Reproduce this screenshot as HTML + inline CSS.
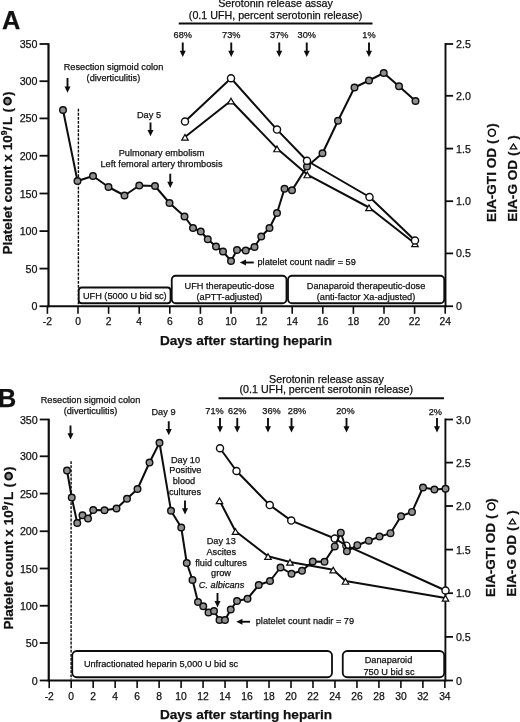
<!DOCTYPE html>
<html><head><meta charset="utf-8"><title>Figure</title>
<style>html,body{margin:0;padding:0;background:#fff;}svg{display:block;}svg{filter:grayscale(1);}text{font-family:"Liberation Sans",Arial,sans-serif;fill:#111;stroke:#111;stroke-width:0.25px;}</style>
</head><body>
<svg width="520" height="722" viewBox="0 0 520 722">
<rect width="520" height="722" fill="#fff"/>
<text x="2.0" y="28.5" font-size="25.4" text-anchor="start" font-weight="bold" font-style="normal" >A</text>
<text x="275.5" y="7.3" font-size="10.7" text-anchor="middle" font-weight="normal" font-style="normal" >Serotonin release assay</text>
<text x="275.6" y="18.6" font-size="10.7" text-anchor="middle" font-weight="normal" font-style="normal" >(0.1 UFH, percent serotonin release)</text>
<line x1="178.75" y1="23.5" x2="372.5" y2="23.5" stroke="#0d0d0d" stroke-width="2"/>
<text x="182.75" y="38" font-size="9.2" text-anchor="middle" font-weight="normal" font-style="normal" >68%</text>
<line x1="182.75" y1="42.5" x2="182.75" y2="51.65" stroke="#0d0d0d" stroke-width="1.9"/>
<polygon points="179.75,50.65 185.75,50.65 182.75,57.05" fill="#0d0d0d"/>
<text x="231.25" y="38" font-size="9.2" text-anchor="middle" font-weight="normal" font-style="normal" >73%</text>
<line x1="231.25" y1="42.5" x2="231.25" y2="51.65" stroke="#0d0d0d" stroke-width="1.9"/>
<polygon points="228.25,50.65 234.25,50.65 231.25,57.05" fill="#0d0d0d"/>
<text x="279.25" y="38" font-size="9.2" text-anchor="middle" font-weight="normal" font-style="normal" >37%</text>
<line x1="279.25" y1="42.5" x2="279.25" y2="51.65" stroke="#0d0d0d" stroke-width="1.9"/>
<polygon points="276.25,50.65 282.25,50.65 279.25,57.05" fill="#0d0d0d"/>
<text x="306.75" y="38" font-size="9.2" text-anchor="middle" font-weight="normal" font-style="normal" >30%</text>
<line x1="306.75" y1="42.5" x2="306.75" y2="51.65" stroke="#0d0d0d" stroke-width="1.9"/>
<polygon points="303.75,50.65 309.75,50.65 306.75,57.05" fill="#0d0d0d"/>
<text x="369" y="38" font-size="9.2" text-anchor="middle" font-weight="normal" font-style="normal" >1%</text>
<line x1="369" y1="42.5" x2="369" y2="51.65" stroke="#0d0d0d" stroke-width="1.9"/>
<polygon points="366.0,50.65 372.0,50.65 369,57.05" fill="#0d0d0d"/>
<text x="113.5" y="70" font-size="9.2" text-anchor="middle" font-weight="normal" font-style="normal" >Resection sigmoid colon</text>
<text x="113.4" y="80.5" font-size="9.2" text-anchor="middle" font-weight="normal" font-style="normal" >(diverticulitis)</text>
<line x1="67.5" y1="78" x2="67.5" y2="87.39999999999999" stroke="#0d0d0d" stroke-width="1.9"/>
<polygon points="64.5,86.39999999999999 70.5,86.39999999999999 67.5,92.8" fill="#0d0d0d"/>
<text x="149" y="118" font-size="9.2" text-anchor="middle" font-weight="normal" font-style="normal" >Day 5</text>
<line x1="150.5" y1="122.5" x2="150.5" y2="130.9" stroke="#0d0d0d" stroke-width="1.9"/>
<polygon points="147.5,129.9 153.5,129.9 150.5,136.3" fill="#0d0d0d"/>
<text x="161.6" y="155.5" font-size="9.2" text-anchor="middle" font-weight="normal" font-style="normal" >Pulmonary embolism</text>
<text x="161.5" y="166.5" font-size="9.2" text-anchor="middle" font-weight="normal" font-style="normal" >Left femoral artery thrombosis</text>
<line x1="170.25" y1="173.75" x2="170.25" y2="182.65" stroke="#0d0d0d" stroke-width="1.9"/>
<polygon points="167.25,181.65 173.25,181.65 170.25,188.05" fill="#0d0d0d"/>
<line x1="78.4" y1="108.75" x2="78.4" y2="305" stroke="#0d0d0d" stroke-width="1.4" stroke-dasharray="2.8,1.3"/>
<rect x="78.75" y="287.5" width="91.75" height="15.75" rx="3" ry="3" fill="#fff" stroke="#0d0d0d" stroke-width="1.8"/>
<text x="124.8" y="298.8" font-size="9.2" text-anchor="middle" font-weight="normal" font-style="normal" >UFH (5000 U bid sc)</text>
<rect x="171.75" y="275.75" width="114.75" height="27.5" rx="4" ry="4" fill="#fff" stroke="#0d0d0d" stroke-width="1.8"/>
<text x="229.5" y="288.5" font-size="9.2" text-anchor="middle" font-weight="normal" font-style="normal" >UFH therapeutic-dose</text>
<text x="229.5" y="299.5" font-size="9.2" text-anchor="middle" font-weight="normal" font-style="normal" >(aPTT-adjusted)</text>
<rect x="288" y="275.75" width="156.25" height="27.5" rx="4" ry="4" fill="#fff" stroke="#0d0d0d" stroke-width="1.8"/>
<text x="366" y="288.5" font-size="9.2" text-anchor="middle" font-weight="normal" font-style="normal" >Danaparoid therapeutic-dose</text>
<text x="366" y="299.5" font-size="9.2" text-anchor="middle" font-weight="normal" font-style="normal" >(anti-factor Xa-adjusted)</text>
<line x1="48.5" y1="43.25" x2="48.5" y2="307.25" stroke="#0d0d0d" stroke-width="2.2"/>
<line x1="47.5" y1="306.25" x2="446.25" y2="306.25" stroke="#0d0d0d" stroke-width="2"/>
<line x1="445.5" y1="43.1" x2="445.5" y2="307.25" stroke="#0d0d0d" stroke-width="1.9"/>
<line x1="39.5" y1="306.25" x2="48.5" y2="306.25" stroke="#0d0d0d" stroke-width="1.8"/>
<text x="37.5" y="310.25" font-size="10.7" text-anchor="end" font-weight="normal" font-style="normal" >0</text>
<line x1="39.5" y1="268.6" x2="48.5" y2="268.6" stroke="#0d0d0d" stroke-width="1.8"/>
<text x="37.5" y="272.6" font-size="10.7" text-anchor="end" font-weight="normal" font-style="normal" >50</text>
<line x1="39.5" y1="231.1" x2="48.5" y2="231.1" stroke="#0d0d0d" stroke-width="1.8"/>
<text x="37.5" y="235.1" font-size="10.7" text-anchor="end" font-weight="normal" font-style="normal" >100</text>
<line x1="39.5" y1="193.5" x2="48.5" y2="193.5" stroke="#0d0d0d" stroke-width="1.8"/>
<text x="37.5" y="197.5" font-size="10.7" text-anchor="end" font-weight="normal" font-style="normal" >150</text>
<line x1="39.5" y1="155.75" x2="48.5" y2="155.75" stroke="#0d0d0d" stroke-width="1.8"/>
<text x="37.5" y="159.75" font-size="10.7" text-anchor="end" font-weight="normal" font-style="normal" >200</text>
<line x1="39.5" y1="118.4" x2="48.5" y2="118.4" stroke="#0d0d0d" stroke-width="1.8"/>
<text x="37.5" y="122.4" font-size="10.7" text-anchor="end" font-weight="normal" font-style="normal" >250</text>
<line x1="39.5" y1="81.2" x2="48.5" y2="81.2" stroke="#0d0d0d" stroke-width="1.8"/>
<text x="37.5" y="85.2" font-size="10.7" text-anchor="end" font-weight="normal" font-style="normal" >300</text>
<line x1="39.5" y1="44" x2="48.5" y2="44" stroke="#0d0d0d" stroke-width="1.8"/>
<text x="37.5" y="48" font-size="10.7" text-anchor="end" font-weight="normal" font-style="normal" >350</text>
<line x1="445.5" y1="306.25" x2="453.1" y2="306.25" stroke="#0d0d0d" stroke-width="1.8"/>
<text x="456.0" y="310.25" font-size="10.7" text-anchor="start" font-weight="normal" font-style="normal" >0</text>
<line x1="445.5" y1="253.4" x2="453.1" y2="253.4" stroke="#0d0d0d" stroke-width="1.8"/>
<text x="456.0" y="257.4" font-size="10.7" text-anchor="start" font-weight="normal" font-style="normal" >0.5</text>
<line x1="445.5" y1="201.2" x2="453.1" y2="201.2" stroke="#0d0d0d" stroke-width="1.8"/>
<text x="456.0" y="205.2" font-size="10.7" text-anchor="start" font-weight="normal" font-style="normal" >1.0</text>
<line x1="445.5" y1="148.6" x2="453.1" y2="148.6" stroke="#0d0d0d" stroke-width="1.8"/>
<text x="456.0" y="152.6" font-size="10.7" text-anchor="start" font-weight="normal" font-style="normal" >1.5</text>
<line x1="445.5" y1="95.8" x2="453.1" y2="95.8" stroke="#0d0d0d" stroke-width="1.8"/>
<text x="456.0" y="99.8" font-size="10.7" text-anchor="start" font-weight="normal" font-style="normal" >2.0</text>
<line x1="445.5" y1="44" x2="453.1" y2="44" stroke="#0d0d0d" stroke-width="1.8"/>
<text x="456.0" y="48" font-size="10.7" text-anchor="start" font-weight="normal" font-style="normal" >2.5</text>
<line x1="47.4" y1="306.25" x2="47.4" y2="313.85" stroke="#0d0d0d" stroke-width="1.6"/>
<text x="47.4" y="325.25" font-size="10.3" text-anchor="middle" font-weight="normal" font-style="normal" >-2</text>
<line x1="78.0" y1="306.25" x2="78.0" y2="313.85" stroke="#0d0d0d" stroke-width="1.6"/>
<text x="78.0" y="325.25" font-size="10.3" text-anchor="middle" font-weight="normal" font-style="normal" >0</text>
<line x1="108.6" y1="306.25" x2="108.6" y2="313.85" stroke="#0d0d0d" stroke-width="1.6"/>
<text x="108.6" y="325.25" font-size="10.3" text-anchor="middle" font-weight="normal" font-style="normal" >2</text>
<line x1="139.2" y1="306.25" x2="139.2" y2="313.85" stroke="#0d0d0d" stroke-width="1.6"/>
<text x="139.2" y="325.25" font-size="10.3" text-anchor="middle" font-weight="normal" font-style="normal" >4</text>
<line x1="169.8" y1="306.25" x2="169.8" y2="313.85" stroke="#0d0d0d" stroke-width="1.6"/>
<text x="169.8" y="325.25" font-size="10.3" text-anchor="middle" font-weight="normal" font-style="normal" >6</text>
<line x1="200.4" y1="306.25" x2="200.4" y2="313.85" stroke="#0d0d0d" stroke-width="1.6"/>
<text x="200.4" y="325.25" font-size="10.3" text-anchor="middle" font-weight="normal" font-style="normal" >8</text>
<line x1="231.0" y1="306.25" x2="231.0" y2="313.85" stroke="#0d0d0d" stroke-width="1.6"/>
<text x="231.0" y="325.25" font-size="10.3" text-anchor="middle" font-weight="normal" font-style="normal" >10</text>
<line x1="261.6" y1="306.25" x2="261.6" y2="313.85" stroke="#0d0d0d" stroke-width="1.6"/>
<text x="261.6" y="325.25" font-size="10.3" text-anchor="middle" font-weight="normal" font-style="normal" >12</text>
<line x1="292.2" y1="306.25" x2="292.2" y2="313.85" stroke="#0d0d0d" stroke-width="1.6"/>
<text x="292.2" y="325.25" font-size="10.3" text-anchor="middle" font-weight="normal" font-style="normal" >14</text>
<line x1="322.8" y1="306.25" x2="322.8" y2="313.85" stroke="#0d0d0d" stroke-width="1.6"/>
<text x="322.8" y="325.25" font-size="10.3" text-anchor="middle" font-weight="normal" font-style="normal" >16</text>
<line x1="353.4" y1="306.25" x2="353.4" y2="313.85" stroke="#0d0d0d" stroke-width="1.6"/>
<text x="353.4" y="325.25" font-size="10.3" text-anchor="middle" font-weight="normal" font-style="normal" >18</text>
<line x1="384.0" y1="306.25" x2="384.0" y2="313.85" stroke="#0d0d0d" stroke-width="1.6"/>
<text x="384.0" y="325.25" font-size="10.3" text-anchor="middle" font-weight="normal" font-style="normal" >20</text>
<line x1="414.6" y1="306.25" x2="414.6" y2="313.85" stroke="#0d0d0d" stroke-width="1.6"/>
<text x="414.6" y="325.25" font-size="10.3" text-anchor="middle" font-weight="normal" font-style="normal" >22</text>
<line x1="445.2" y1="306.25" x2="445.2" y2="313.85" stroke="#0d0d0d" stroke-width="1.6"/>
<text x="445.2" y="325.25" font-size="10.3" text-anchor="middle" font-weight="normal" font-style="normal" >24</text>
<polyline points="63,110 77.5,181 93,176 108.5,187 124.5,195.5 139.25,185.5 155,186 169.5,203 184.5,216.5 193,228 200.75,231.5 207.75,239.25 216,246.5 223,251.5 231,261 237,250 245.75,250.5 254.5,247 261.25,236.5 269.5,228 277,213 284.5,188.75 292,190.25 307,166.6 322.5,153.25 338,120.75 354.5,87.5 369,80.5 383.75,73 399,86.25 415.5,101" fill="none" stroke="#0d0d0d" stroke-width="2.0" stroke-linejoin="round"/>
<circle cx="63" cy="110" r="3.3" fill="#8f8f8f" stroke="#0d0d0d" stroke-width="1.4"/>
<circle cx="77.5" cy="181" r="3.3" fill="#8f8f8f" stroke="#0d0d0d" stroke-width="1.4"/>
<circle cx="93" cy="176" r="3.3" fill="#8f8f8f" stroke="#0d0d0d" stroke-width="1.4"/>
<circle cx="108.5" cy="187" r="3.3" fill="#8f8f8f" stroke="#0d0d0d" stroke-width="1.4"/>
<circle cx="124.5" cy="195.5" r="3.3" fill="#8f8f8f" stroke="#0d0d0d" stroke-width="1.4"/>
<circle cx="139.25" cy="185.5" r="3.3" fill="#8f8f8f" stroke="#0d0d0d" stroke-width="1.4"/>
<circle cx="155" cy="186" r="3.3" fill="#8f8f8f" stroke="#0d0d0d" stroke-width="1.4"/>
<circle cx="169.5" cy="203" r="3.3" fill="#8f8f8f" stroke="#0d0d0d" stroke-width="1.4"/>
<circle cx="184.5" cy="216.5" r="3.3" fill="#8f8f8f" stroke="#0d0d0d" stroke-width="1.4"/>
<circle cx="193" cy="228" r="3.3" fill="#8f8f8f" stroke="#0d0d0d" stroke-width="1.4"/>
<circle cx="200.75" cy="231.5" r="3.3" fill="#8f8f8f" stroke="#0d0d0d" stroke-width="1.4"/>
<circle cx="207.75" cy="239.25" r="3.3" fill="#8f8f8f" stroke="#0d0d0d" stroke-width="1.4"/>
<circle cx="216" cy="246.5" r="3.3" fill="#8f8f8f" stroke="#0d0d0d" stroke-width="1.4"/>
<circle cx="223" cy="251.5" r="3.3" fill="#8f8f8f" stroke="#0d0d0d" stroke-width="1.4"/>
<circle cx="231" cy="261" r="3.3" fill="#8f8f8f" stroke="#0d0d0d" stroke-width="1.4"/>
<circle cx="237" cy="250" r="3.3" fill="#8f8f8f" stroke="#0d0d0d" stroke-width="1.4"/>
<circle cx="245.75" cy="250.5" r="3.3" fill="#8f8f8f" stroke="#0d0d0d" stroke-width="1.4"/>
<circle cx="254.5" cy="247" r="3.3" fill="#8f8f8f" stroke="#0d0d0d" stroke-width="1.4"/>
<circle cx="261.25" cy="236.5" r="3.3" fill="#8f8f8f" stroke="#0d0d0d" stroke-width="1.4"/>
<circle cx="269.5" cy="228" r="3.3" fill="#8f8f8f" stroke="#0d0d0d" stroke-width="1.4"/>
<circle cx="277" cy="213" r="3.3" fill="#8f8f8f" stroke="#0d0d0d" stroke-width="1.4"/>
<circle cx="284.5" cy="188.75" r="3.3" fill="#8f8f8f" stroke="#0d0d0d" stroke-width="1.4"/>
<circle cx="292" cy="190.25" r="3.3" fill="#8f8f8f" stroke="#0d0d0d" stroke-width="1.4"/>
<circle cx="307" cy="166.6" r="3.3" fill="#8f8f8f" stroke="#0d0d0d" stroke-width="1.4"/>
<circle cx="322.5" cy="153.25" r="3.3" fill="#8f8f8f" stroke="#0d0d0d" stroke-width="1.4"/>
<circle cx="338" cy="120.75" r="3.3" fill="#8f8f8f" stroke="#0d0d0d" stroke-width="1.4"/>
<circle cx="354.5" cy="87.5" r="3.3" fill="#8f8f8f" stroke="#0d0d0d" stroke-width="1.4"/>
<circle cx="369" cy="80.5" r="3.3" fill="#8f8f8f" stroke="#0d0d0d" stroke-width="1.4"/>
<circle cx="383.75" cy="73" r="3.3" fill="#8f8f8f" stroke="#0d0d0d" stroke-width="1.4"/>
<circle cx="399" cy="86.25" r="3.3" fill="#8f8f8f" stroke="#0d0d0d" stroke-width="1.4"/>
<circle cx="415.5" cy="101" r="3.3" fill="#8f8f8f" stroke="#0d0d0d" stroke-width="1.4"/>
<polyline points="185,137 231,100.75 277,148.6 307.25,174.6 369,207.5 415,243.5" fill="none" stroke="#0d0d0d" stroke-width="2.0" stroke-linejoin="round"/>
<polyline points="185,121.5 231,78.25 277,129.6 307,160.75 369.5,197 415,240.5" fill="none" stroke="#0d0d0d" stroke-width="2.0" stroke-linejoin="round"/>
<polygon points="181.75,140.15 188.25,140.15 185,134.48" fill="#fff" stroke="#0d0d0d" stroke-width="1.2" stroke-linejoin="miter"/>
<polygon points="227.75,103.9 234.25,103.9 231,98.23" fill="#fff" stroke="#0d0d0d" stroke-width="1.2" stroke-linejoin="miter"/>
<polygon points="273.75,151.75 280.25,151.75 277,146.07999999999998" fill="#fff" stroke="#0d0d0d" stroke-width="1.2" stroke-linejoin="miter"/>
<polygon points="304.0,177.75 310.5,177.75 307.25,172.07999999999998" fill="#fff" stroke="#0d0d0d" stroke-width="1.2" stroke-linejoin="miter"/>
<polygon points="365.75,210.65 372.25,210.65 369,204.98" fill="#fff" stroke="#0d0d0d" stroke-width="1.2" stroke-linejoin="miter"/>
<polygon points="411.75,246.65 418.25,246.65 415,240.98" fill="#fff" stroke="#0d0d0d" stroke-width="1.2" stroke-linejoin="miter"/>
<circle cx="185" cy="121.5" r="3.55" fill="#fff" stroke="#0d0d0d" stroke-width="1.4"/>
<circle cx="231" cy="78.25" r="3.55" fill="#fff" stroke="#0d0d0d" stroke-width="1.4"/>
<circle cx="277" cy="129.6" r="3.55" fill="#fff" stroke="#0d0d0d" stroke-width="1.4"/>
<circle cx="307" cy="160.75" r="3.55" fill="#fff" stroke="#0d0d0d" stroke-width="1.4"/>
<circle cx="369.5" cy="197" r="3.55" fill="#fff" stroke="#0d0d0d" stroke-width="1.4"/>
<circle cx="415" cy="240.5" r="3.55" fill="#fff" stroke="#0d0d0d" stroke-width="1.4"/>
<line x1="245.0" y1="262.5" x2="253.75" y2="262.5" stroke="#0d0d0d" stroke-width="1.9"/>
<polygon points="246.0,259.5 246.0,265.5 239.8,262.5" fill="#0d0d0d"/>
<text x="257.5" y="264.8" font-size="9.2" text-anchor="start" font-weight="normal" font-style="normal" >platelet count nadir = 59</text>
<text x="246" y="344.9" font-size="13.6" text-anchor="middle" font-weight="bold" font-style="normal" >Days after starting heparin</text>
<g transform="translate(11.9,254.6) rotate(-90)"><text x="0" y="0" font-size="13.6" font-weight="bold">Platelet count x 10<tspan font-size="8.6" dy="-4.6">9</tspan><tspan dy="4.6">/</tspan><tspan dx="1.6">L</tspan><tspan dx="0.8"> (</tspan><tspan dx="11.9">)</tspan></text></g>
<circle cx="7.5" cy="101.2" r="3.4" fill="#8f8f8f" stroke="#0d0d0d" stroke-width="1.9"/>
<g transform="translate(495.9,221.9) rotate(-90)"><text x="0" y="0" font-size="13.6" font-weight="bold">EIA-GTI OD (<tspan dx="11.75">)</tspan></text></g>
<circle cx="491.9" cy="132.85" r="3.5" fill="#fff" stroke="#0d0d0d" stroke-width="1.5"/>
<g transform="translate(516.6,221.8) rotate(-90)"><text x="0" y="0" font-size="13.6" font-weight="bold">EIA-G OD (<tspan dx="11.85">)</tspan></text></g>
<polygon points="510.2,148.8 516.7,148.8 513.45,143.9" fill="#fff" stroke="#0d0d0d" stroke-width="1.2"/>
<text x="-2.2" y="407.4" font-size="25.6" text-anchor="start" font-weight="bold" font-style="normal" >B</text>
<text x="326.4" y="382.9" font-size="10.7" text-anchor="middle" font-weight="normal" font-style="normal" >Serotonin release assay</text>
<text x="326.3" y="393.0" font-size="10.7" text-anchor="middle" font-weight="normal" font-style="normal" >(0.1 UFH, percent serotonin release)</text>
<line x1="218.5" y1="398.3" x2="444" y2="398.3" stroke="#0d0d0d" stroke-width="2"/>
<text x="214.5" y="413.8" font-size="9.2" text-anchor="middle" font-weight="normal" font-style="normal" >71%</text>
<line x1="220" y1="418" x2="220" y2="427.15000000000003" stroke="#0d0d0d" stroke-width="1.9"/>
<polygon points="217.0,426.15000000000003 223.0,426.15000000000003 220,432.55" fill="#0d0d0d"/>
<text x="237.25" y="413.8" font-size="9.2" text-anchor="middle" font-weight="normal" font-style="normal" >62%</text>
<line x1="237.25" y1="418" x2="237.25" y2="427.15000000000003" stroke="#0d0d0d" stroke-width="1.9"/>
<polygon points="234.25,426.15000000000003 240.25,426.15000000000003 237.25,432.55" fill="#0d0d0d"/>
<text x="271.5" y="413.8" font-size="9.2" text-anchor="middle" font-weight="normal" font-style="normal" >36%</text>
<line x1="268" y1="418" x2="268" y2="427.15000000000003" stroke="#0d0d0d" stroke-width="1.9"/>
<polygon points="265.0,426.15000000000003 271.0,426.15000000000003 268,432.55" fill="#0d0d0d"/>
<text x="297" y="413.8" font-size="9.2" text-anchor="middle" font-weight="normal" font-style="normal" >28%</text>
<line x1="291.5" y1="418" x2="291.5" y2="427.15000000000003" stroke="#0d0d0d" stroke-width="1.9"/>
<polygon points="288.5,426.15000000000003 294.5,426.15000000000003 291.5,432.55" fill="#0d0d0d"/>
<text x="345.4" y="413.8" font-size="9.2" text-anchor="middle" font-weight="normal" font-style="normal" >20%</text>
<line x1="346.5" y1="418" x2="346.5" y2="427.15000000000003" stroke="#0d0d0d" stroke-width="1.9"/>
<polygon points="343.5,426.15000000000003 349.5,426.15000000000003 346.5,432.55" fill="#0d0d0d"/>
<text x="435.4" y="415" font-size="9.2" text-anchor="middle" font-weight="normal" font-style="normal" >2%</text>
<line x1="437" y1="418" x2="437" y2="427.15000000000003" stroke="#0d0d0d" stroke-width="1.9"/>
<polygon points="434.0,426.15000000000003 440.0,426.15000000000003 437,432.55" fill="#0d0d0d"/>
<text x="90.5" y="402.5" font-size="9.2" text-anchor="middle" font-weight="normal" font-style="normal" >Resection sigmoid colon</text>
<text x="90.5" y="413.5" font-size="9.2" text-anchor="middle" font-weight="normal" font-style="normal" >(diverticulitis)</text>
<line x1="70.5" y1="425.5" x2="70.5" y2="434.15000000000003" stroke="#0d0d0d" stroke-width="1.9"/>
<polygon points="67.5,433.15000000000003 73.5,433.15000000000003 70.5,439.55" fill="#0d0d0d"/>
<text x="163.5" y="414.5" font-size="9.2" text-anchor="middle" font-weight="normal" font-style="normal" >Day 9</text>
<line x1="168.75" y1="421.25" x2="168.75" y2="429.90000000000003" stroke="#0d0d0d" stroke-width="1.9"/>
<polygon points="165.75,428.90000000000003 171.75,428.90000000000003 168.75,435.3" fill="#0d0d0d"/>
<text x="185.5" y="462.5" font-size="9.2" text-anchor="middle" font-weight="normal" font-style="normal" >Day 10</text>
<text x="185.4" y="473.3" font-size="9.2" text-anchor="middle" font-weight="normal" font-style="normal" >Positive</text>
<text x="184" y="484.3" font-size="9.2" text-anchor="middle" font-weight="normal" font-style="normal" >blood</text>
<text x="185" y="495.2" font-size="9.2" text-anchor="middle" font-weight="normal" font-style="normal" >cultures</text>
<line x1="185" y1="500.5" x2="185" y2="509.15" stroke="#0d0d0d" stroke-width="1.9"/>
<polygon points="182.0,508.15 188.0,508.15 185,514.55" fill="#0d0d0d"/>
<text x="221.25" y="543.5" font-size="9.2" text-anchor="middle" font-weight="normal" font-style="normal" >Day 13</text>
<text x="221.25" y="554.8" font-size="9.2" text-anchor="middle" font-weight="normal" font-style="normal" >Ascites</text>
<text x="221" y="565.6" font-size="9.2" text-anchor="middle" font-weight="normal" font-style="normal" >fluid cultures</text>
<text x="221" y="576.4" font-size="9.2" text-anchor="middle" font-weight="normal" font-style="normal" >grow</text>
<text x="221.6" y="587.5" font-size="9.2" text-anchor="middle" font-weight="normal" font-style="italic" >C. albicans</text>
<line x1="217.5" y1="593" x2="217.5" y2="602.0" stroke="#0d0d0d" stroke-width="1.9"/>
<polygon points="214.5,601.0 220.5,601.0 217.5,607.4" fill="#0d0d0d"/>
<line x1="71.1" y1="461.2" x2="71.1" y2="679.5" stroke="#0d0d0d" stroke-width="1.4" stroke-dasharray="2.8,1.3"/>
<rect x="72.25" y="651" width="259.75" height="26.25" rx="4.5" ry="4.5" fill="#fff" stroke="#0d0d0d" stroke-width="1.8"/>
<text x="161" y="667" font-size="9.2" text-anchor="middle" font-weight="normal" font-style="normal" >Unfractionated heparin 5,000 U bid sc</text>
<rect x="342.75" y="651" width="101.44999999999999" height="26.25" rx="4.5" ry="4.5" fill="#fff" stroke="#0d0d0d" stroke-width="1.8"/>
<text x="388.5" y="663" font-size="9.2" text-anchor="middle" font-weight="normal" font-style="normal" >Danaparoid</text>
<text x="389" y="674.5" font-size="9.2" text-anchor="middle" font-weight="normal" font-style="normal" >750 U bid sc</text>
<line x1="48.75" y1="418.75" x2="48.75" y2="681.5" stroke="#0d0d0d" stroke-width="2.2"/>
<line x1="47.75" y1="680.5" x2="446.15" y2="680.5" stroke="#0d0d0d" stroke-width="2"/>
<line x1="445.4" y1="418.6" x2="445.4" y2="681.5" stroke="#0d0d0d" stroke-width="1.9"/>
<line x1="39.75" y1="680.5" x2="48.75" y2="680.5" stroke="#0d0d0d" stroke-width="1.8"/>
<text x="37.75" y="684.5" font-size="10.7" text-anchor="end" font-weight="normal" font-style="normal" >0</text>
<line x1="39.75" y1="643" x2="48.75" y2="643" stroke="#0d0d0d" stroke-width="1.8"/>
<text x="37.75" y="647" font-size="10.7" text-anchor="end" font-weight="normal" font-style="normal" >50</text>
<line x1="39.75" y1="605.75" x2="48.75" y2="605.75" stroke="#0d0d0d" stroke-width="1.8"/>
<text x="37.75" y="609.75" font-size="10.7" text-anchor="end" font-weight="normal" font-style="normal" >100</text>
<line x1="39.75" y1="568.5" x2="48.75" y2="568.5" stroke="#0d0d0d" stroke-width="1.8"/>
<text x="37.75" y="572.5" font-size="10.7" text-anchor="end" font-weight="normal" font-style="normal" >150</text>
<line x1="39.75" y1="531.25" x2="48.75" y2="531.25" stroke="#0d0d0d" stroke-width="1.8"/>
<text x="37.75" y="535.25" font-size="10.7" text-anchor="end" font-weight="normal" font-style="normal" >200</text>
<line x1="39.75" y1="493.6" x2="48.75" y2="493.6" stroke="#0d0d0d" stroke-width="1.8"/>
<text x="37.75" y="497.6" font-size="10.7" text-anchor="end" font-weight="normal" font-style="normal" >250</text>
<line x1="39.75" y1="456.3" x2="48.75" y2="456.3" stroke="#0d0d0d" stroke-width="1.8"/>
<text x="37.75" y="460.3" font-size="10.7" text-anchor="end" font-weight="normal" font-style="normal" >300</text>
<line x1="39.75" y1="419.5" x2="48.75" y2="419.5" stroke="#0d0d0d" stroke-width="1.8"/>
<text x="37.75" y="423.5" font-size="10.7" text-anchor="end" font-weight="normal" font-style="normal" >350</text>
<line x1="445.4" y1="680.5" x2="453.0" y2="680.5" stroke="#0d0d0d" stroke-width="1.8"/>
<text x="455.9" y="684.5" font-size="10.7" text-anchor="start" font-weight="normal" font-style="normal" >0</text>
<line x1="445.4" y1="636.9" x2="453.0" y2="636.9" stroke="#0d0d0d" stroke-width="1.8"/>
<text x="455.9" y="640.9" font-size="10.7" text-anchor="start" font-weight="normal" font-style="normal" >0.5</text>
<line x1="445.4" y1="593.2" x2="453.0" y2="593.2" stroke="#0d0d0d" stroke-width="1.8"/>
<text x="455.9" y="597.2" font-size="10.7" text-anchor="start" font-weight="normal" font-style="normal" >1.0</text>
<line x1="445.4" y1="549.6" x2="453.0" y2="549.6" stroke="#0d0d0d" stroke-width="1.8"/>
<text x="455.9" y="553.6" font-size="10.7" text-anchor="start" font-weight="normal" font-style="normal" >1.5</text>
<line x1="445.4" y1="506" x2="453.0" y2="506" stroke="#0d0d0d" stroke-width="1.8"/>
<text x="455.9" y="510" font-size="10.7" text-anchor="start" font-weight="normal" font-style="normal" >2.0</text>
<line x1="445.4" y1="462.6" x2="453.0" y2="462.6" stroke="#0d0d0d" stroke-width="1.8"/>
<text x="455.9" y="466.6" font-size="10.7" text-anchor="start" font-weight="normal" font-style="normal" >2.5</text>
<line x1="445.4" y1="419.5" x2="453.0" y2="419.5" stroke="#0d0d0d" stroke-width="1.8"/>
<text x="455.9" y="423.5" font-size="10.7" text-anchor="start" font-weight="normal" font-style="normal" >3.0</text>
<line x1="49.22" y1="680.5" x2="49.22" y2="688.1" stroke="#0d0d0d" stroke-width="1.6"/>
<text x="49.22" y="699.5" font-size="10.3" text-anchor="middle" font-weight="normal" font-style="normal" >-2</text>
<line x1="71.2" y1="680.5" x2="71.2" y2="688.1" stroke="#0d0d0d" stroke-width="1.6"/>
<text x="71.2" y="699.5" font-size="10.3" text-anchor="middle" font-weight="normal" font-style="normal" >0</text>
<line x1="93.18" y1="680.5" x2="93.18" y2="688.1" stroke="#0d0d0d" stroke-width="1.6"/>
<text x="93.18" y="699.5" font-size="10.3" text-anchor="middle" font-weight="normal" font-style="normal" >2</text>
<line x1="115.16" y1="680.5" x2="115.16" y2="688.1" stroke="#0d0d0d" stroke-width="1.6"/>
<text x="115.16" y="699.5" font-size="10.3" text-anchor="middle" font-weight="normal" font-style="normal" >4</text>
<line x1="137.14" y1="680.5" x2="137.14" y2="688.1" stroke="#0d0d0d" stroke-width="1.6"/>
<text x="137.14" y="699.5" font-size="10.3" text-anchor="middle" font-weight="normal" font-style="normal" >6</text>
<line x1="159.12" y1="680.5" x2="159.12" y2="688.1" stroke="#0d0d0d" stroke-width="1.6"/>
<text x="159.12" y="699.5" font-size="10.3" text-anchor="middle" font-weight="normal" font-style="normal" >8</text>
<line x1="181.1" y1="680.5" x2="181.1" y2="688.1" stroke="#0d0d0d" stroke-width="1.6"/>
<text x="181.1" y="699.5" font-size="10.3" text-anchor="middle" font-weight="normal" font-style="normal" >10</text>
<line x1="203.08" y1="680.5" x2="203.08" y2="688.1" stroke="#0d0d0d" stroke-width="1.6"/>
<text x="203.08" y="699.5" font-size="10.3" text-anchor="middle" font-weight="normal" font-style="normal" >12</text>
<line x1="225.06" y1="680.5" x2="225.06" y2="688.1" stroke="#0d0d0d" stroke-width="1.6"/>
<text x="225.06" y="699.5" font-size="10.3" text-anchor="middle" font-weight="normal" font-style="normal" >14</text>
<line x1="247.04" y1="680.5" x2="247.04" y2="688.1" stroke="#0d0d0d" stroke-width="1.6"/>
<text x="247.04" y="699.5" font-size="10.3" text-anchor="middle" font-weight="normal" font-style="normal" >16</text>
<line x1="269.02" y1="680.5" x2="269.02" y2="688.1" stroke="#0d0d0d" stroke-width="1.6"/>
<text x="269.02" y="699.5" font-size="10.3" text-anchor="middle" font-weight="normal" font-style="normal" >18</text>
<line x1="291.0" y1="680.5" x2="291.0" y2="688.1" stroke="#0d0d0d" stroke-width="1.6"/>
<text x="291.0" y="699.5" font-size="10.3" text-anchor="middle" font-weight="normal" font-style="normal" >20</text>
<line x1="312.98" y1="680.5" x2="312.98" y2="688.1" stroke="#0d0d0d" stroke-width="1.6"/>
<text x="312.98" y="699.5" font-size="10.3" text-anchor="middle" font-weight="normal" font-style="normal" >22</text>
<line x1="334.96" y1="680.5" x2="334.96" y2="688.1" stroke="#0d0d0d" stroke-width="1.6"/>
<text x="334.96" y="699.5" font-size="10.3" text-anchor="middle" font-weight="normal" font-style="normal" >24</text>
<line x1="356.94" y1="680.5" x2="356.94" y2="688.1" stroke="#0d0d0d" stroke-width="1.6"/>
<text x="356.94" y="699.5" font-size="10.3" text-anchor="middle" font-weight="normal" font-style="normal" >26</text>
<line x1="378.92" y1="680.5" x2="378.92" y2="688.1" stroke="#0d0d0d" stroke-width="1.6"/>
<text x="378.92" y="699.5" font-size="10.3" text-anchor="middle" font-weight="normal" font-style="normal" >28</text>
<line x1="400.9" y1="680.5" x2="400.9" y2="688.1" stroke="#0d0d0d" stroke-width="1.6"/>
<text x="400.9" y="699.5" font-size="10.3" text-anchor="middle" font-weight="normal" font-style="normal" >30</text>
<line x1="422.88" y1="680.5" x2="422.88" y2="688.1" stroke="#0d0d0d" stroke-width="1.6"/>
<text x="422.88" y="699.5" font-size="10.3" text-anchor="middle" font-weight="normal" font-style="normal" >32</text>
<line x1="444.86" y1="680.5" x2="444.86" y2="688.1" stroke="#0d0d0d" stroke-width="1.6"/>
<text x="444.86" y="699.5" font-size="10.3" text-anchor="middle" font-weight="normal" font-style="normal" >34</text>
<polyline points="219.5,500.5 235.5,531.25 268,556.25 290,562 333.2,569.75 345.5,581.1 445.5,598" fill="none" stroke="#0d0d0d" stroke-width="2.0" stroke-linejoin="round"/>
<polyline points="220,448.25 236.5,471 269.75,505.1 291.25,520.6 334.75,538.5 346.4,545.7 445.5,590.5" fill="none" stroke="#0d0d0d" stroke-width="2.0" stroke-linejoin="round"/>
<polygon points="216.25,503.65 222.75,503.65 219.5,497.98" fill="#fff" stroke="#0d0d0d" stroke-width="1.2" stroke-linejoin="miter"/>
<polygon points="232.25,534.4 238.75,534.4 235.5,528.73" fill="#fff" stroke="#0d0d0d" stroke-width="1.2" stroke-linejoin="miter"/>
<polygon points="264.75,559.4 271.25,559.4 268,553.73" fill="#fff" stroke="#0d0d0d" stroke-width="1.2" stroke-linejoin="miter"/>
<polygon points="286.75,565.15 293.25,565.15 290,559.48" fill="#fff" stroke="#0d0d0d" stroke-width="1.2" stroke-linejoin="miter"/>
<polygon points="329.95,572.9 336.45,572.9 333.2,567.23" fill="#fff" stroke="#0d0d0d" stroke-width="1.2" stroke-linejoin="miter"/>
<polygon points="342.25,584.25 348.75,584.25 345.5,578.58" fill="#fff" stroke="#0d0d0d" stroke-width="1.2" stroke-linejoin="miter"/>
<polygon points="442.25,601.15 448.75,601.15 445.5,595.48" fill="#fff" stroke="#0d0d0d" stroke-width="1.2" stroke-linejoin="miter"/>
<circle cx="220" cy="448.25" r="3.55" fill="#fff" stroke="#0d0d0d" stroke-width="1.4"/>
<circle cx="236.5" cy="471" r="3.55" fill="#fff" stroke="#0d0d0d" stroke-width="1.4"/>
<circle cx="269.75" cy="505.1" r="3.55" fill="#fff" stroke="#0d0d0d" stroke-width="1.4"/>
<circle cx="291.25" cy="520.6" r="3.55" fill="#fff" stroke="#0d0d0d" stroke-width="1.4"/>
<circle cx="334.75" cy="538.5" r="3.55" fill="#fff" stroke="#0d0d0d" stroke-width="1.4"/>
<circle cx="346.4" cy="545.7" r="3.55" fill="#fff" stroke="#0d0d0d" stroke-width="1.4"/>
<circle cx="445.5" cy="590.5" r="3.55" fill="#fff" stroke="#0d0d0d" stroke-width="1.4"/>
<polyline points="67,470.5 71.75,497.5 77.25,523 82.5,515.25 88,518.5 93.25,510 104.5,510.25 116.5,508.5 127,498.75 137.5,489 149.5,462.5 159.5,442.75 171,510.75 181.25,527.5 186.75,563 192.5,580 198,602 203.25,606.25 208.5,612.5 214,611 219.5,620 225,620 230.75,609.5 237,601 247.5,598.75 258.75,585 270,581 280.5,567.5 291.5,573.75 302,570.75 312.75,561.5 324.5,561.75 334.75,546.4 340.8,532.7 346.9,551.3 357.3,545.2 368.8,540.7 379.5,536.6 390.5,533.2 401,516.25 412,511.9 423,487.5 434.4,489.5 445.5,488.75" fill="none" stroke="#0d0d0d" stroke-width="2.0" stroke-linejoin="round"/>
<circle cx="67" cy="470.5" r="3.3" fill="#8f8f8f" stroke="#0d0d0d" stroke-width="1.4"/>
<circle cx="71.75" cy="497.5" r="3.3" fill="#8f8f8f" stroke="#0d0d0d" stroke-width="1.4"/>
<circle cx="77.25" cy="523" r="3.3" fill="#8f8f8f" stroke="#0d0d0d" stroke-width="1.4"/>
<circle cx="82.5" cy="515.25" r="3.3" fill="#8f8f8f" stroke="#0d0d0d" stroke-width="1.4"/>
<circle cx="88" cy="518.5" r="3.3" fill="#8f8f8f" stroke="#0d0d0d" stroke-width="1.4"/>
<circle cx="93.25" cy="510" r="3.3" fill="#8f8f8f" stroke="#0d0d0d" stroke-width="1.4"/>
<circle cx="104.5" cy="510.25" r="3.3" fill="#8f8f8f" stroke="#0d0d0d" stroke-width="1.4"/>
<circle cx="116.5" cy="508.5" r="3.3" fill="#8f8f8f" stroke="#0d0d0d" stroke-width="1.4"/>
<circle cx="127" cy="498.75" r="3.3" fill="#8f8f8f" stroke="#0d0d0d" stroke-width="1.4"/>
<circle cx="137.5" cy="489" r="3.3" fill="#8f8f8f" stroke="#0d0d0d" stroke-width="1.4"/>
<circle cx="149.5" cy="462.5" r="3.3" fill="#8f8f8f" stroke="#0d0d0d" stroke-width="1.4"/>
<circle cx="159.5" cy="442.75" r="3.3" fill="#8f8f8f" stroke="#0d0d0d" stroke-width="1.4"/>
<circle cx="171" cy="510.75" r="3.3" fill="#8f8f8f" stroke="#0d0d0d" stroke-width="1.4"/>
<circle cx="181.25" cy="527.5" r="3.3" fill="#8f8f8f" stroke="#0d0d0d" stroke-width="1.4"/>
<circle cx="186.75" cy="563" r="3.3" fill="#8f8f8f" stroke="#0d0d0d" stroke-width="1.4"/>
<circle cx="192.5" cy="580" r="3.3" fill="#8f8f8f" stroke="#0d0d0d" stroke-width="1.4"/>
<circle cx="198" cy="602" r="3.3" fill="#8f8f8f" stroke="#0d0d0d" stroke-width="1.4"/>
<circle cx="203.25" cy="606.25" r="3.3" fill="#8f8f8f" stroke="#0d0d0d" stroke-width="1.4"/>
<circle cx="208.5" cy="612.5" r="3.3" fill="#8f8f8f" stroke="#0d0d0d" stroke-width="1.4"/>
<circle cx="214" cy="611" r="3.3" fill="#8f8f8f" stroke="#0d0d0d" stroke-width="1.4"/>
<circle cx="219.5" cy="620" r="3.3" fill="#8f8f8f" stroke="#0d0d0d" stroke-width="1.4"/>
<circle cx="225" cy="620" r="3.3" fill="#8f8f8f" stroke="#0d0d0d" stroke-width="1.4"/>
<circle cx="230.75" cy="609.5" r="3.3" fill="#8f8f8f" stroke="#0d0d0d" stroke-width="1.4"/>
<circle cx="237" cy="601" r="3.3" fill="#8f8f8f" stroke="#0d0d0d" stroke-width="1.4"/>
<circle cx="247.5" cy="598.75" r="3.3" fill="#8f8f8f" stroke="#0d0d0d" stroke-width="1.4"/>
<circle cx="258.75" cy="585" r="3.3" fill="#8f8f8f" stroke="#0d0d0d" stroke-width="1.4"/>
<circle cx="270" cy="581" r="3.3" fill="#8f8f8f" stroke="#0d0d0d" stroke-width="1.4"/>
<circle cx="280.5" cy="567.5" r="3.3" fill="#8f8f8f" stroke="#0d0d0d" stroke-width="1.4"/>
<circle cx="291.5" cy="573.75" r="3.3" fill="#8f8f8f" stroke="#0d0d0d" stroke-width="1.4"/>
<circle cx="302" cy="570.75" r="3.3" fill="#8f8f8f" stroke="#0d0d0d" stroke-width="1.4"/>
<circle cx="312.75" cy="561.5" r="3.3" fill="#8f8f8f" stroke="#0d0d0d" stroke-width="1.4"/>
<circle cx="324.5" cy="561.75" r="3.3" fill="#8f8f8f" stroke="#0d0d0d" stroke-width="1.4"/>
<circle cx="334.75" cy="546.4" r="3.3" fill="#8f8f8f" stroke="#0d0d0d" stroke-width="1.4"/>
<circle cx="340.8" cy="532.7" r="3.3" fill="#8f8f8f" stroke="#0d0d0d" stroke-width="1.4"/>
<circle cx="346.9" cy="551.3" r="3.3" fill="#8f8f8f" stroke="#0d0d0d" stroke-width="1.4"/>
<circle cx="357.3" cy="545.2" r="3.3" fill="#8f8f8f" stroke="#0d0d0d" stroke-width="1.4"/>
<circle cx="368.8" cy="540.7" r="3.3" fill="#8f8f8f" stroke="#0d0d0d" stroke-width="1.4"/>
<circle cx="379.5" cy="536.6" r="3.3" fill="#8f8f8f" stroke="#0d0d0d" stroke-width="1.4"/>
<circle cx="390.5" cy="533.2" r="3.3" fill="#8f8f8f" stroke="#0d0d0d" stroke-width="1.4"/>
<circle cx="401" cy="516.25" r="3.3" fill="#8f8f8f" stroke="#0d0d0d" stroke-width="1.4"/>
<circle cx="412" cy="511.9" r="3.3" fill="#8f8f8f" stroke="#0d0d0d" stroke-width="1.4"/>
<circle cx="423" cy="487.5" r="3.3" fill="#8f8f8f" stroke="#0d0d0d" stroke-width="1.4"/>
<circle cx="434.4" cy="489.5" r="3.3" fill="#8f8f8f" stroke="#0d0d0d" stroke-width="1.4"/>
<circle cx="445.5" cy="488.75" r="3.3" fill="#8f8f8f" stroke="#0d0d0d" stroke-width="1.4"/>
<line x1="241.45" y1="621.75" x2="250" y2="621.75" stroke="#0d0d0d" stroke-width="1.9"/>
<polygon points="242.45,618.75 242.45,624.75 236.25,621.75" fill="#0d0d0d"/>
<text x="255.75" y="624.3" font-size="9.2" text-anchor="start" font-weight="normal" font-style="normal" >platelet count nadir = 79</text>
<text x="246" y="719.3" font-size="13.6" text-anchor="middle" font-weight="bold" font-style="normal" >Days after starting heparin</text>
<g transform="translate(13.05,629.6) rotate(-90)"><text x="0" y="0" font-size="13.6" font-weight="bold">Platelet count x 10<tspan font-size="8.6" dy="-4.6">9</tspan><tspan dy="4.6">/</tspan><tspan dx="1.6">L</tspan><tspan dx="0.8"> (</tspan><tspan dx="11.9">)</tspan></text></g>
<circle cx="8.65" cy="476.2" r="3.4" fill="#8f8f8f" stroke="#0d0d0d" stroke-width="1.9"/>
<g transform="translate(494.9,596.9) rotate(-90)"><text x="0" y="0" font-size="13.6" font-weight="bold">EIA-GTI OD (<tspan dx="11.75">)</tspan></text></g>
<circle cx="491.3" cy="506.4" r="3.5" fill="#fff" stroke="#0d0d0d" stroke-width="1.5"/>
<g transform="translate(515.6,596.8) rotate(-90)"><text x="0" y="0" font-size="13.6" font-weight="bold">EIA-G OD (<tspan dx="11.85">)</tspan></text></g>
<polygon points="509.2,523.8 515.7,523.8 512.45,518.9" fill="#fff" stroke="#0d0d0d" stroke-width="1.2"/>
</svg></body></html>
